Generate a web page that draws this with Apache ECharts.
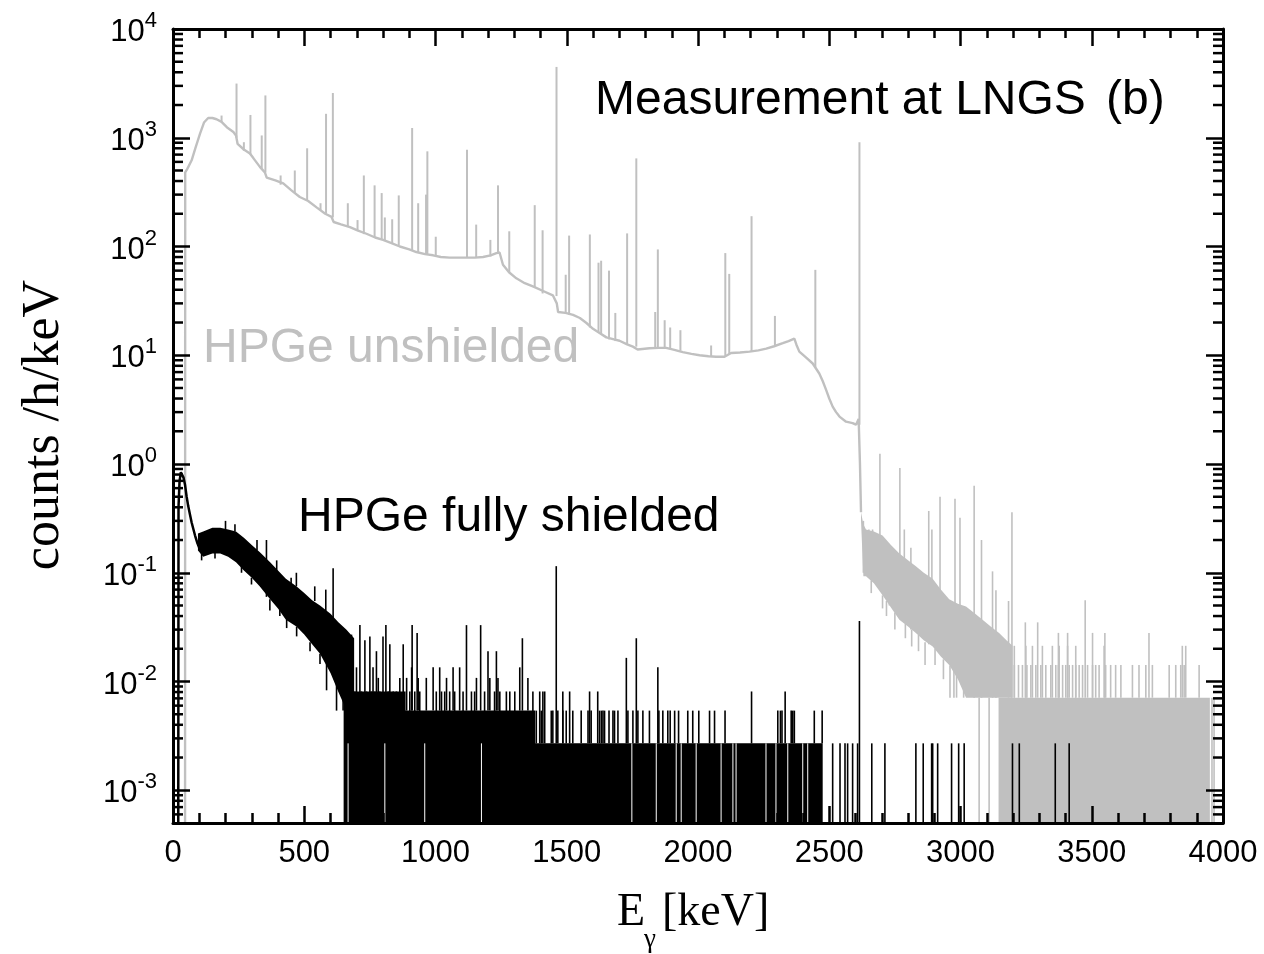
<!DOCTYPE html>
<html>
<head>
<meta charset="utf-8">
<script src="https://cdn.jsdelivr.net/npm/echarts@6/dist/echarts.min.js"></script>
<style>
html,body{margin:0;padding:0;background:#fff;}
#chart{width:1264px;height:954px;}
</style>
</head>
<body>
<div id="chart"></div>
<script>
// ---------------- DATA ----------------
const X_MIN = 0, X_MAX = 4000, X_STEP = 500;
const Y_MIN = 5e-4, Y_MAX = 1e4;
const MINOR_MANTISSAS = [2, 3, 4, 5, 6, 7, 8, 9];
const MINOR_DECADES = [-4, -3, -2, -1, 0, 1, 2, 3];

// HPGe unshielded (grey): continuum [keV, counts/h/keV]
const unshieldedContinuum = [
  [46, 5e-4], [46.5, 480], [55, 520], [71, 620], [85, 800], [103, 1090], [118, 1380], [134, 1520],
  [150, 1520], [166, 1480], [185, 1400], [205, 1250], [230, 1130], [240, 1050], [246, 880],
  [270, 780], [293, 715], [306, 650], [331, 540], [350, 480], [357, 430], [390, 405], [420, 380],
  [450, 330], [483, 285], [515, 262], [547, 229], [580, 200], [604, 187], [612, 168], [640, 160],
  [674, 151], [705, 140], [737, 131], [770, 121], [800, 115], [830, 108], [864, 100], [900, 94],
  [927, 89], [960, 85], [991, 83], [1020, 80], [1054, 79], [1085, 79], [1118, 79], [1150, 79],
  [1181, 80], [1210, 83], [1232, 87], [1244, 88], [1257, 68], [1280, 58], [1308, 51], [1340, 46],
  [1371, 43], [1410, 39], [1447, 35.6], [1462, 30], [1467, 25], [1495, 24.5], [1524, 23.5],
  [1550, 22], [1575, 19.8], [1600, 17.5], [1625, 16], [1651, 14.6], [1680, 14], [1701, 13.6],
  [1730, 12.6], [1752, 12], [1770, 11.3], [1815, 11.6], [1850, 11.7], [1879, 11.7], [1910, 11.2],
  [1942, 10.7], [1975, 10.3], [2006, 10], [2040, 9.8], [2069, 9.7], [2101, 9.7], [2126, 10.5],
  [2160, 10.6], [2196, 10.8], [2230, 11.1], [2260, 11.5], [2290, 12.1], [2323, 12.9], [2345, 13.5],
  [2367, 14.2], [2375, 12.5], [2386, 10.8], [2410, 9.6], [2437, 8.4], [2462, 6.8], [2475, 5.8],
  [2488, 4.8], [2500, 4.0], [2513, 3.37], [2526, 3.0], [2539, 2.73], [2564, 2.45], [2589, 2.38],
  [2602, 2.3], [2608, 2.3], [2612, 2.6], [2617, 1.0], [2621, 0.36]
];
// grey peaks [keV, top, continuum under the peak]
const unshieldedPeaks = [
  [185, 1600, 1400], [242, 3150, 1000], [270, 910, 760], [295, 1620, 700], [338, 1050, 520],
  [352, 2450, 480], [410, 450, 370], [464, 500, 310], [511, 800, 265], [562, 250, 215],
  [583, 1660, 200], [609, 2580, 185], [666, 250, 152], [703, 175, 140], [727, 450, 130],
  [768, 365, 122], [795, 310, 116], [807, 185, 113], [835, 178, 107], [860, 295, 102],
  [911, 1230, 92], [934, 250, 88], [964, 300, 84], [969, 750, 84], [1001, 123, 82],
  [1120, 775, 79], [1155, 159, 79], [1209, 115, 81], [1238, 365, 87], [1281, 138, 58],
  [1378, 240, 42], [1408, 141, 37], [1461, 4480, 35], [1496, 55, 24], [1509, 126, 23.5],
  [1588, 129, 18], [1621, 71, 16], [1631, 74, 15.5], [1661, 60, 14], [1685, 24.5, 13.5],
  [1730, 132, 12.5], [1765, 646, 12], [1837, 25, 11.6], [1847, 94, 11.6], [1873, 21, 11.6],
  [1894, 18, 11.4], [1933, 17, 11], [2050, 12.3, 9.8], [2104, 87, 9.8], [2119, 56, 10.2],
  [2204, 190, 10.8], [2293, 23, 12.2], [2447, 61, 7.8], [2615, 910, 2.3]
];
// grey tail above 2614 keV: dense noise band envelopes
const unshieldedTailUpper = [
  [2621, 0.36], [2630, 0.28], [2640, 0.25], [2670, 0.24], [2703, 0.22], [2735, 0.18], [2767, 0.15],
  [2800, 0.13], [2830, 0.115], [2860, 0.1], [2894, 0.088], [2925, 0.07], [2957, 0.057], [2990, 0.052],
  [3021, 0.049], [3050, 0.043], [3084, 0.037], [3115, 0.032], [3147, 0.028], [3175, 0.024], [3198, 0.0213]
];
const unshieldedTailLower = [
  [2621, 0.30], [2630, 0.093], [2640, 0.093], [2670, 0.08], [2703, 0.062], [2735, 0.048], [2767, 0.037],
  [2800, 0.032], [2830, 0.028], [2860, 0.024], [2894, 0.021], [2925, 0.017], [2957, 0.0142], [2990, 0.0105],
  [3021, 0.0071], [3050, 0.0071], [3084, 0.0071], [3115, 0.0071], [3147, 0.0071], [3175, 0.0071], [3198, 0.0071]
];
const UNSHIELDED_Q1 = 0.0071, UNSHIELDED_Q2 = 0.0142, UNSHIELDED_Q3 = 0.0213;
const unshieldedFloorRange = [3145, 3950];
// isolated grey lines [keV, top, bottom]
const unshieldedTailSpikes = [
  [2630, 0.30, 0.1], [2651, 0.25, 0.1], [2693, 1.24, 0.07], [2729, 0.15, 0.05], [2769, 0.92, 0.04],
  [2786, 0.25, 0.035], [2811, 0.17, 0.03], [2879, 0.37, 0.022], [2891, 0.25, 0.022], [2922, 0.5, 0.018],
  [2979, 0.48, 0.013], [2998, 0.32, 0.011], [3052, 0.63, 0.0071], [3080, 0.2, 0.0071], [3122, 0.103, 0.0071],
  [3135, 0.069, 0.0071], [3183, 0.055, 0.0071], [3196, 0.36, 0.0071], [3247, 0.035, 0.0071],
  [3294, 0.035, 0.0071], [3373, 0.028, 0.0071], [3408, 0.028, 0.0071], [3475, 0.056, 0.0071],
  [3503, 0.028, 0.0071], [3550, 0.028, 0.0071], [3718, 0.028, 0.0071],
  [2665, 0.25, 0.1], [2741, 0.14, 0.05], [2799, 0.12, 0.04], [2855, 0.09, 0.03],
  [2660, 0.085, 0.065], [2703, 0.062, 0.047], [2718, 0.055, 0.04], [2750, 0.043, 0.03],
  [2790, 0.034, 0.025], [2814, 0.03, 0.021], [2840, 0.027, 0.019], [2865, 0.023, 0.0142],
  [2903, 0.02, 0.0142], [2935, 0.016, 0.0105], [2960, 0.014, 0.0071], [2975, 0.014, 0.0071],
  [2985, 0.012, 0.0071], [3012, 0.0085, 0.0071],
  [3071, 0.0071, 5e-4], [3109, 0.0071, 5e-4], [3958, 0.0071, 5e-4], [3966, 0.0071, 5e-4]
];
const unshieldedLevel2E = [3205, 3221, 3236, 3253, 3268, 3287, 3306, 3325, 3344, 3363, 3373, 3389, 3401,
  3414, 3427, 3439, 3452, 3465, 3484, 3503, 3515, 3528, 3553, 3572, 3591, 3611, 3655, 3680, 3706, 3731,
  3795, 3820, 3839, 3852, 3909];
const unshieldedLevel3E = [3205, 3249, 3274, 3312, 3350, 3376, 3408, 3439, 3547, 3845, 3858];

// HPGe fully shielded (black)
const shieldedLowEnergy = [
  [20, 5e-4], [21, 0.4], [25, 0.7], [30, 0.84], [34, 0.85], [40, 0.75], [46, 0.64], [52, 0.5],
  [58, 0.41], [65, 0.34], [71, 0.29], [78, 0.25], [84, 0.22], [92, 0.19], [100, 0.17], [106, 0.17]
];
const shieldedBandUpper = [
  [95, 0.23], [115, 0.24], [150, 0.26], [180, 0.26], [210, 0.25], [240, 0.24], [270, 0.21], [300, 0.18],
  [330, 0.155], [370, 0.125], [400, 0.105], [430, 0.088], [470, 0.075], [500, 0.065], [530, 0.056],
  [560, 0.05], [600, 0.042], [630, 0.035], [660, 0.03], [690, 0.025]
];
const shieldedBandLower = [
  [95, 0.16], [115, 0.14], [150, 0.15], [180, 0.15], [210, 0.14], [240, 0.125], [270, 0.105], [300, 0.09],
  [330, 0.075], [370, 0.057], [400, 0.047], [430, 0.037], [470, 0.032], [500, 0.027], [530, 0.022],
  [560, 0.018], [600, 0.012], [630, 0.008], [660, 0.0055], [690, 0.0055]
];
const SHIELDED_Q1 = 0.0027, SHIELDED_Q2 = 0.0054, SHIELDED_Q3 = 0.0081;
const shieldedFloorSteps = [[650, 0.0081], [880, 0.0081], [880, 0.0054], [1380, 0.0054], [1380, 0.0027], [2475, 0.0027]];
// isolated black lines [keV, top, bottom]
const shieldedSpikes = [
  [356, 0.20, 0.06], [450, 0.09, 0.04], [582, 0.07, 0.02], [610, 0.11, 0.015],
  [109, 0.16, 0.13], [160, 0.16, 0.135], [261, 0.12, 0.1], [299, 0.09, 0.078], [369, 0.057, 0.045],
  [407, 0.047, 0.04], [433, 0.037, 0.031], [471, 0.032, 0.026], [522, 0.023, 0.019], [560, 0.018, 0.0145],
  [585, 0.015, 0.0083], [623, 0.01, 0.0054], [200, 0.3, 0.25], [236, 0.28, 0.24], [320, 0.2, 0.16],
  [395, 0.13, 0.1], [540, 0.075, 0.055], [470, 0.1, 0.075],
  [648, 0.026, 0.0054], [680, 0.027, 0.0054], [712, 0.033, 0.0054], [731, 0.024, 0.0054],
  [750, 0.026, 0.0054], [775, 0.019, 0.0054], [800, 0.026, 0.0054], [811, 0.033, 0.0054],
  [826, 0.022, 0.0054], [877, 0.022, 0.0054], [911, 0.033, 0.0054], [930, 0.028, 0.0054],
  [1118, 0.033, 0.0054], [1172, 0.033, 0.0054], [1200, 0.019, 0.0054], [1232, 0.019, 0.0054],
  [1331, 0.025, 0.0054], [1460, 0.115, 0.0027], [1727, 0.0165, 0.0027], [1765, 0.025, 0.0027],
  [1847, 0.0135, 0.0027], [2204, 0.0081, 0.0027], [2332, 0.0081, 0.0027], [2615, 0.036, 5e-4],
  [699, 0.0135, 0.0054], [762, 0.0135, 0.0054], [782, 0.0108, 0.0054], [864, 0.0108, 0.0054],
  [890, 0.0108, 0.0054], [909, 0.0135, 0.0054], [934, 0.0108, 0.0054], [965, 0.0108, 0.0054],
  [991, 0.0135, 0.0054], [1016, 0.0135, 0.0054], [1042, 0.0108, 0.0054], [1067, 0.0135, 0.0054],
  [1092, 0.0135, 0.0054], [1156, 0.0108, 0.0054], [1207, 0.0108, 0.0054], [1238, 0.0108, 0.0054],
  [1321, 0.0135, 0.0054], [1352, 0.0108, 0.0054]
];
const shieldedLevel3E = [674, 693, 718, 737, 756, 769, 788, 820, 839, 851, 883, 902, 921, 940, 1003,
  1023, 1035, 1054, 1073, 1105, 1137, 1149, 1187, 1225, 1245, 1270, 1283, 1302, 1371, 1397, 1416,
  1409, 1485, 1511, 1587, 1618];
const shieldedLevel2E = [1384, 1403, 1441, 1447, 1466, 1485, 1498, 1523, 1555, 1581, 1593, 1625, 1632,
  1638, 1644, 1661, 1676, 1682, 1695, 1733, 1752, 1771, 1790, 1815, 1851, 1866, 1885, 1894, 1911, 1926,
  1961, 1980, 2003, 2044, 2063, 2103, 2304, 2314, 2320, 2355, 2361, 2367, 2443, 2473];
const shieldedSingleE = [2513, 2541, 2560, 2570, 2589, 2608, 2662, 2712, 2830, 2858, 2890, 2894, 2913,
  2966, 2993, 3014, 3198, 3224, 3361, 3414];
const shieldedGapsE = [667, 807, 959, 1175, 1748, 1841, 1917, 1936, 1993, 2088, 2133, 2145, 2259, 2297,
  2342, 2399, 2418];

// ---------------- CHART ----------------
const GREY = '#c0c0c0';
const BLACK = '#000000';
const SANS = '"Liberation Sans", Arial, sans-serif';
const SERIF = '"Liberation Serif", "Times New Roman", serif';

function polygonSeries(points, color, z) {
  return {
    type: 'custom', silent: true, clip: true, z: z, animation: false,
    data: [0],
    renderItem: function (params, api) {
      return { type: 'polygon', shape: { points: points.map(function (p) { return api.coord(p); }) },
               style: { fill: color } };
    }
  };
}
function spikeSeries(rows, color, width, z) {
  return {
    type: 'custom', silent: true, clip: true, z: z, animation: false,
    dimensions: ['e', 'top', 'base'],
    encode: { x: 0, y: [1, 2] },
    data: rows,
    renderItem: function (params, api) {
      const e = api.value(0);
      const a = api.coord([e, api.value(2)]);
      const b = api.coord([e, api.value(1)]);
      return { type: 'line', shape: { x1: a[0], y1: a[1], x2: b[0], y2: b[1] },
               style: { stroke: color, lineWidth: width } };
    }
  };
}
function bandPoints(upper, lower) {
  return upper.concat(lower.slice().reverse());
}
function floorPoints(steps) {
  return [[steps[0][0], Y_MIN]].concat(steps).concat([[steps[steps.length - 1][0], Y_MIN]]);
}

const minorTickValues = [];
MINOR_DECADES.forEach(function (d) {
  MINOR_MANTISSAS.forEach(function (m) {
    const v = m * Math.pow(10, d);
    if (v > Y_MIN * 1.0001 && v < Y_MAX) minorTickValues.push(v);
  });
});

const chart = echarts.init(document.getElementById('chart'), null, { renderer: 'canvas' });

const axisLineStyle = { color: BLACK, width: 3 };
const tickStyle = { color: BLACK, width: 2.5 };

const option = {
  animation: false,
  backgroundColor: '#ffffff',
  grid: { left: 173, right: 41, top: 29, bottom: 131, containLabel: false },
  xAxis: [
    {
      type: 'value', min: X_MIN, max: X_MAX, interval: X_STEP, position: 'bottom', z: 10,
      axisLine: { show: true, onZero: false, lineStyle: axisLineStyle },
      axisTick: { show: true, inside: true, length: 17, lineStyle: tickStyle },
      minorTick: { show: true, splitNumber: 5, length: 10, lineStyle: tickStyle },
      splitLine: { show: false },
      axisLabel: { show: true, margin: 15, color: BLACK, fontSize: 31, fontFamily: SANS,
                   formatter: function (v) { return String(v); } }
    },
    {
      type: 'value', min: X_MIN, max: X_MAX, interval: X_STEP, position: 'top', z: 10,
      axisLine: { show: true, onZero: false, lineStyle: axisLineStyle },
      axisTick: { show: true, inside: true, length: 17, lineStyle: tickStyle },
      minorTick: { show: true, splitNumber: 5, length: 9, lineStyle: tickStyle },
      splitLine: { show: false },
      axisLabel: { show: false }
    }
  ],
  yAxis: [
    {
      type: 'log', logBase: 10, min: Y_MIN, max: Y_MAX, position: 'left', z: 10,
      axisLine: { show: true, onZero: false, lineStyle: axisLineStyle },
      axisTick: { show: true, inside: true, length: 17, lineStyle: tickStyle },
      splitLine: { show: false },
      axisLabel: {
        show: true, margin: 16, showMinLabel: true,
        formatter: function (v) {
          const e = Math.log10(v);
          const r = Math.round(e);
          if (Math.abs(e - r) > 1e-6) return '';
          return '{b|10}{s|' + r + '}';
        },
        rich: {
          b: { fontSize: 31, fontFamily: SANS, color: BLACK, lineHeight: 36, verticalAlign: 'bottom' },
          s: { fontSize: 22, fontFamily: SANS, color: BLACK, padding: [0, 0, 16, 0], verticalAlign: 'bottom' }
        }
      }
    },
    {
      type: 'log', logBase: 10, min: Y_MIN, max: Y_MAX, position: 'right', z: 10,
      axisLine: { show: true, onZero: false, lineStyle: axisLineStyle },
      axisTick: { show: true, inside: true, length: 17, lineStyle: tickStyle },
      splitLine: { show: false },
      axisLabel: { show: false }
    }
  ],
  series: [
    // ---- grey: unshielded ----
    {
      type: 'line', name: 'HPGe unshielded', data: unshieldedContinuum, showSymbol: false,
      symbol: 'none', clip: true, z: 2, silent: true,
      lineStyle: { color: GREY, width: 2.4 }
    },
    spikeSeries(unshieldedPeaks, GREY, 2, 2),
    polygonSeries(bandPoints(unshieldedTailUpper, unshieldedTailLower), GREY, 2),
    polygonSeries([[unshieldedFloorRange[0], Y_MIN], [unshieldedFloorRange[0], UNSHIELDED_Q1],
                   [unshieldedFloorRange[1], UNSHIELDED_Q1], [unshieldedFloorRange[1], Y_MIN]], GREY, 2),
    spikeSeries(unshieldedTailSpikes, GREY, 1.6, 2),
    spikeSeries(unshieldedLevel2E.map(function (e) { return [e, UNSHIELDED_Q2, UNSHIELDED_Q1]; }), GREY, 1.6, 2),
    spikeSeries(unshieldedLevel3E.map(function (e) { return [e, UNSHIELDED_Q3, UNSHIELDED_Q1]; }), GREY, 1.6, 2),
    // ---- black: fully shielded ----
    {
      type: 'line', name: 'HPGe fully shielded', data: shieldedLowEnergy, showSymbol: false,
      symbol: 'none', clip: true, z: 3, silent: true,
      lineStyle: { color: BLACK, width: 2.5 }
    },
    polygonSeries(bandPoints(shieldedBandUpper, shieldedBandLower), BLACK, 3),
    polygonSeries(floorPoints(shieldedFloorSteps), BLACK, 3),
    spikeSeries(shieldedGapsE.map(function (e) { return [e, SHIELDED_Q1, Y_MIN]; }), '#ffffff', 1, 3),
    spikeSeries(shieldedSpikes, BLACK, 1.6, 4),
    spikeSeries(shieldedLevel3E.map(function (e) { return [e, SHIELDED_Q3, SHIELDED_Q1]; }), BLACK, 1.6, 4),
    spikeSeries(shieldedLevel2E.map(function (e) { return [e, SHIELDED_Q2, SHIELDED_Q1]; }), BLACK, 1.6, 4),
    spikeSeries(shieldedSingleE.map(function (e) { return [e, SHIELDED_Q1, Y_MIN]; }), BLACK, 1.6, 4),
    // ---- log minor ticks on left and right frame ----
    {
      type: 'custom', silent: true, clip: false, z: 11, animation: false,
      data: minorTickValues,
      encode: { y: 0 },
      renderItem: function (params, api) {
        const v = api.value(0);
        const l = api.coord([X_MIN, v]);
        const r = api.coord([X_MAX, v]);
        return {
          type: 'group',
          children: [
            { type: 'line', shape: { x1: l[0], y1: l[1], x2: l[0] + 10, y2: l[1] }, style: { stroke: BLACK, lineWidth: 2.5 } },
            { type: 'line', shape: { x1: r[0] - 10, y1: r[1], x2: r[0], y2: r[1] }, style: { stroke: BLACK, lineWidth: 2.5 } }
          ]
        };
      }
    }
  ],
  graphic: {
    elements: [
      { type: 'text', x: 595, y: 101, silent: true,
        style: { text: 'Measurement at LNGS', fill: BLACK, font: '48px ' + SANS, align: 'left', verticalAlign: 'middle', textAlign: 'left', textVerticalAlign: 'middle' } },
      { type: 'text', x: 1106, y: 101, silent: true,
        style: { text: '(b)', fill: BLACK, font: '48px ' + SANS, align: 'left', verticalAlign: 'middle', textAlign: 'left', textVerticalAlign: 'middle' } },
      { type: 'text', x: 203, y: 349, silent: true,
        style: { text: 'HPGe unshielded', fill: GREY, font: '48px ' + SANS, align: 'left', verticalAlign: 'middle', textAlign: 'left', textVerticalAlign: 'middle' } },
      { type: 'text', x: 298, y: 518, silent: true,
        style: { text: 'HPGe fully shielded', fill: BLACK, font: '48px ' + SANS, align: 'left', verticalAlign: 'middle', textAlign: 'left', textVerticalAlign: 'middle' } },
      { type: 'text', x: 44, y: 425, rotation: Math.PI / 2, silent: true,
        style: { text: 'counts /h/keV', fill: BLACK, font: '52px ' + SERIF, align: 'center', verticalAlign: 'middle', textAlign: 'center', textVerticalAlign: 'middle' } },
      { type: 'text', x: 617, y: 913, silent: true,
        style: { text: 'E', fill: BLACK, font: '46px ' + SERIF, align: 'left', verticalAlign: 'middle', textAlign: 'left', textVerticalAlign: 'middle' } },
      { type: 'text', x: 644, y: 940, silent: true,
        style: { text: 'γ', fill: BLACK, font: '27px ' + SERIF, align: 'left', verticalAlign: 'middle', textAlign: 'left', textVerticalAlign: 'middle' } },
      { type: 'text', x: 662, y: 913, silent: true,
        style: { text: '[keV]', fill: BLACK, font: '46px ' + SERIF, align: 'left', verticalAlign: 'middle', textAlign: 'left', textVerticalAlign: 'middle' } }
    ]
  }
};
chart.setOption(option);
</script>
</body>
</html>
